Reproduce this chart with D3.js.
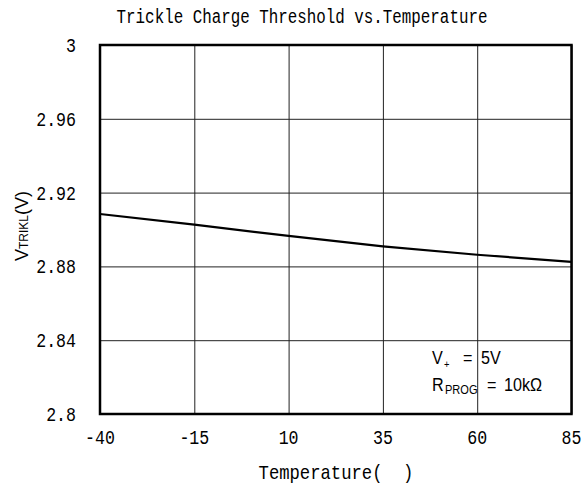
<!DOCTYPE html>
<html><head><meta charset="utf-8">
<script src="https://cdn.jsdelivr.net/npm/d3@7"></script>
<style>body{margin:0;background:#fff}svg{display:block}</style>
</head><body>
<svg id="c" width="584" height="491"></svg>
<script>
const temps = [-40, -15, 10, 35, 60, 85];
const vtrikl = [2.9084, 2.9026, 2.8965, 2.8909, 2.8863, 2.8825];
const xTicks = [-40, -15, 10, 35, 60, 85];
const yTicks = [2.8, 2.84, 2.88, 2.92, 2.96, 3.0];
const yTickLabels = ["2.8", "2.84", "2.88", "2.92", "2.96", "3"];

const svg = d3.select("#c");
const L = 100, R = 571.5, T = 45, B = 414;
const x = d3.scaleLinear().domain([-40, 85]).range([L, R]);
const y = d3.scaleLinear().domain([2.8, 3.0]).range([B, T]);
const mono = "'Liberation Mono', 'DejaVu Sans Mono', monospace";
const sans = "'Liberation Sans', Arial, sans-serif";

// helper: horizontally condensed text
function ctext(parent, px, py, str, opts) {
  const o = Object.assign({size: 21, family: mono, sx: 0.79, anchor: "start"}, opts || {});
  const g = parent.append("g").attr("transform", `translate(${px},${py}) scale(${o.sx},1)`);
  return g.append("text").attr("x", 0).attr("y", 0).attr("text-anchor", o.anchor)
    .attr("font-family", o.family).attr("font-size", o.size).attr("fill", "#000")
    .attr("xml:space", "preserve").style("white-space", "pre").text(str);
}

// grid
const gx = svg.append("g").attr("transform", `translate(0,${B})`)
  .call(d3.axisBottom(x).tickValues(xTicks).tickSize(-(B - T)).tickFormat(""));
gx.select(".domain").remove();
gx.selectAll("line").attr("stroke", "#222").attr("stroke-width", 1);
const gy = svg.append("g").attr("transform", `translate(${L},0)`)
  .call(d3.axisLeft(y).tickValues(yTicks).tickSize(-(R - L)).tickFormat(""));
gy.select(".domain").remove();
gy.selectAll("line").attr("stroke", "#222").attr("stroke-width", 1);

// tick labels
const xl = svg.append("g");
xTicks.forEach(d => ctext(xl, x(d), 444, String(d), {anchor: "middle"}));
const yl = svg.append("g");
yTicks.forEach((d, i) => ctext(yl, 76, y(d) + 7, yTickLabels[i], {anchor: "end"}));

// data line
svg.append("path").datum(temps.map((t, i) => [t, vtrikl[i]]))
  .attr("d", d3.line().x(d => x(d[0])).y(d => y(d[1])))
  .attr("fill", "none").attr("stroke", "#000").attr("stroke-width", 2.2);

// frame
svg.append("rect").attr("x", L).attr("y", T).attr("width", R - L).attr("height", B - T)
  .attr("fill", "none").attr("stroke", "#000").attr("stroke-width", 2.5);

// title
ctext(svg, 302, 23, "Trickle Charge Threshold vs.Temperature", {anchor: "middle", sx: 0.755});

// x axis title
ctext(svg, 336, 479, "Temperature(  )", {anchor: "middle", sx: 0.82});

// y axis title
const yt = svg.append("text").attr("transform", "translate(28,226) rotate(-90)")
  .attr("text-anchor", "middle").attr("font-family", sans).attr("font-size", 18).attr("fill", "#000");
yt.append("tspan").text("V");
yt.append("tspan").attr("font-size", 12).text("TRIKL");
yt.append("tspan").text("(V)");

// annotation
const an = svg.append("g");
const sa = {family: sans, sx: 0.85, size: 19};
ctext(an, 432, 364, "V", sa);
ctext(an, 444, 368, "+", Object.assign({}, sa, {size: 11}));
ctext(an, 463, 364, "=", sa);
ctext(an, 481, 364, "5V", sa);
ctext(an, 432, 391, "R", sa);
ctext(an, 445, 394, "PROG", Object.assign({}, sa, {size: 13}));
ctext(an, 487, 391, "=", sa);
ctext(an, 504, 391, "10kΩ", sa);
</script>
</body></html>
